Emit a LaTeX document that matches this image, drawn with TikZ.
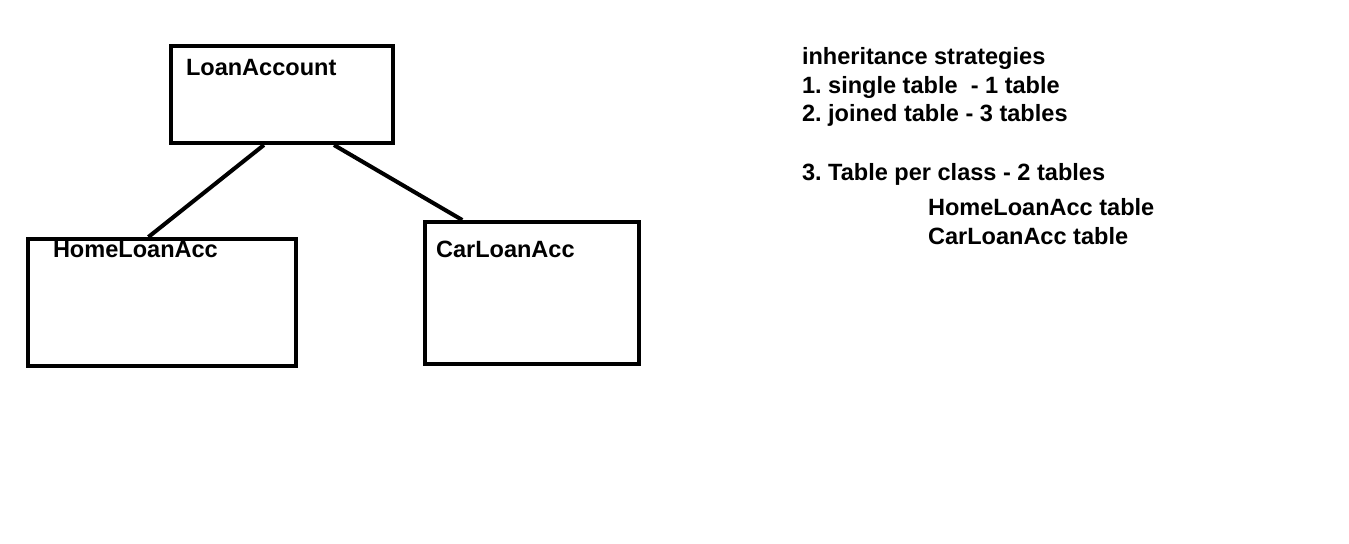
\documentclass[tikz,border=0pt]{standalone}
\usepackage{fontspec}
\setmainfont{Liberation Sans}
\usetikzlibrary{positioning, calc}
\frenchspacing

\begin{document}
\begin{tikzpicture}[x=0.02cm, y=-0.02cm, line width=2.3pt,
    box/.style={draw, rectangle, inner sep=0pt},
    txt/.style={anchor=base west, inner sep=0pt, outer sep=0pt,
                font=\bfseries\fontsize{13.4}{16}\selectfont}]
	\useasboundingbox (0,0) rectangle (1349,544);
	
	% class boxes
	\node[box, minimum width=4.44cm, minimum height=1.94cm] (loan) at (282,94.5) {};
	\node[box, minimum width=5.36cm, minimum height=2.54cm] (home) at (162,302.5) {};
	\node[box, minimum width=4.28cm, minimum height=2.84cm] (car) at (532,293) {};
	\node[txt] (loanname) at (186,76) {LoanAccount};
	\node[txt] (homename) at (53,257) {HomeLoanAcc};
	\node[txt] (carname) at (436,257) {CarLoanAcc};
	
	\draw ($(loan.south west)!0.42!(loan.south east)$) -- ($(home.north west)!0.45!(home.north east)$);
	\draw ($(loan.south west)!0.73!(loan.south east)$) -- ($(car.north west)!0.18!(car.north east)$);
	
	% notes
	\node[txt] (title) at (802,65) {inheritance strategies};
	\node[txt] (single) at (802,93) {1. single table\ \ - 1 table};
	\node[txt] (joined) at (802,122) {2. joined table - 3 tables};
	\node[txt] (perclass) at (802,180) {3. Table per class - 2 tables};
	\node[txt] (hometable) at (928,215) {HomeLoanAcc table};
	\node[txt] (cartable) at (928,244) {CarLoanAcc table};
\end{tikzpicture}
\end{document}
